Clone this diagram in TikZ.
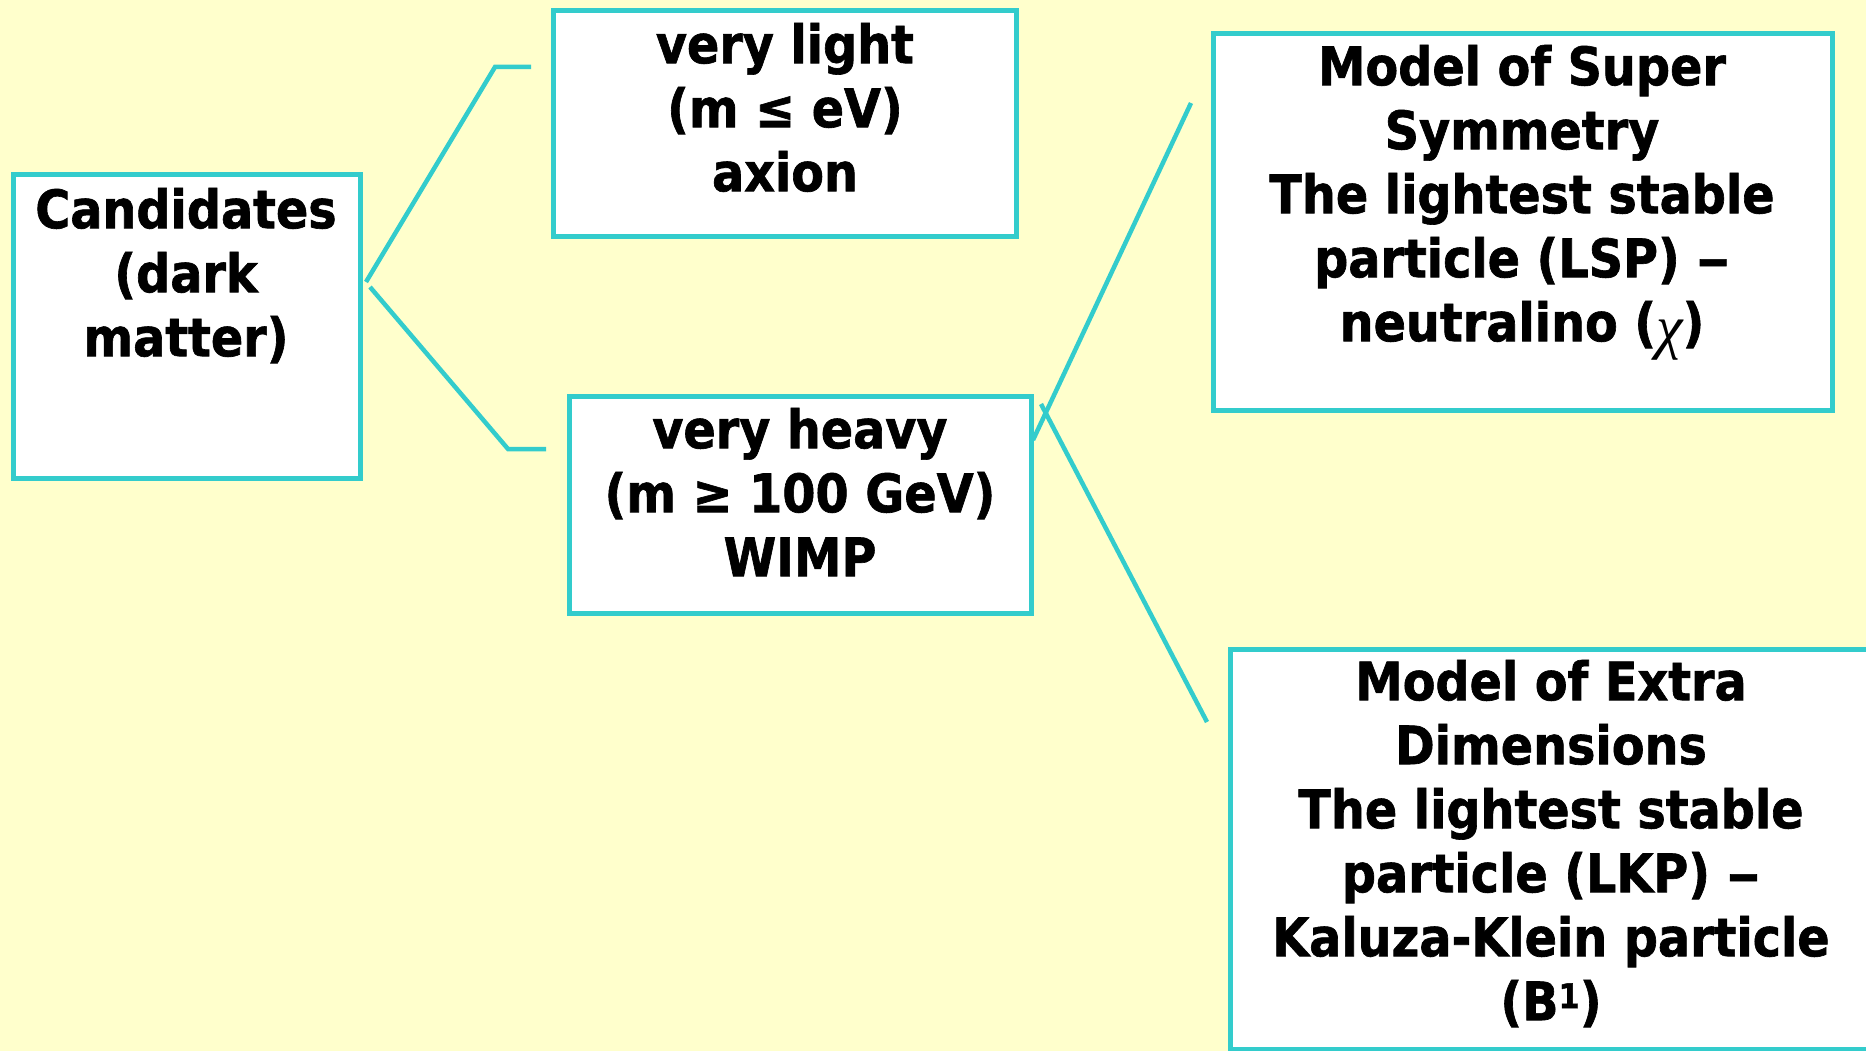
\documentclass[tikz,border=0pt]{standalone}
\usepackage{fontspec}
\usepackage{graphicx}
\setmainfont{DejaVu Sans Condensed}[BoldFont={DejaVu Sans Condensed Bold},BoldFeatures={FakeBold=1.2}]
\newfontfamily\greekfont{Liberation Serif}
\definecolor{paper}{HTML}{FFFFCC}
\definecolor{boxcyan}{HTML}{33CCCC}
\newcommand{\supone}{\raisebox{12pt}{\fontsize{34}{34}\selectfont 1}}
\newcommand{\longdash}{\scalebox{1.4}[1]{–}}
\begin{document}
\begin{tikzpicture}[x=1pt,y=-1pt,
  box/.style={draw=boxcyan, line width=5pt, fill=white, inner sep=0pt, anchor=center},
  txt/.style={font=\bfseries\fontsize{53}{64}\selectfont, align=center, inner sep=0pt, anchor=north},
  conn/.style={draw=boxcyan, line width=4.5pt}]
  % page and background
  \useasboundingbox (0,0) rectangle (1866,1051);
  \clip (0,0) rectangle (1866,1051);
  \fill[paper] (0,0) rectangle (1866,1051);

  % boxes
  \node[box, minimum width=347pt, minimum height=303pt] (cand)  at (186.5,326.5) {};
  \node[box, minimum width=463pt, minimum height=226pt] (light) at (784.5,124) {};
  \node[box, minimum width=462pt, minimum height=217pt] (heavy) at (800,504.5) {};
  \node[box, minimum width=619pt, minimum height=376pt] (susy)  at (1522.5,222) {};
  \node[box, minimum width=680pt, minimum height=400pt] (extra) at (1570,849) {};

  % texts (first baseline 45pt below the node top)
  \node[txt] (tcand)  at (186,183)  {\rule{0pt}{45pt}Candidates\\(dark\\matter)};
  \node[txt] (tlight) at (785,18)   {\rule{0pt}{45pt}very light\\(m ≤ eV)\\axion};
  \node[txt] (theavy) at (800,403)  {\rule{0pt}{45pt}very heavy\\(m ≥ 100 GeV)\\WIMP};
  \node[txt] (tsusy)  at (1522,40)  {\rule{0pt}{45pt}Model of Super\\Symmetry\\The lightest stable\\particle (LSP) \longdash\\neutralino ({\greekfont\mdseries\itshape\fontsize{60}{64}\selectfont\raisebox{-6pt}{χ}})};
  \node[txt] (textra) at (1551,655) {\rule{0pt}{45pt}Model of Extra\\Dimensions\\The lightest stable\\particle (LKP) \longdash\\Kaluza-Klein particle\\(B\supone)};

  % connector points
  \coordinate (aS) at (366,282);  \coordinate (aK) at (495,67);  \coordinate (aE) at (531,67);
  \coordinate (bS) at (370,287);  \coordinate (bK) at (508,449); \coordinate (bE) at (546,449);
  \coordinate (cS) at (1033,440); \coordinate (cE) at (1191,103);
  \coordinate (dS) at (1041,404); \coordinate (dE) at (1207,722);

  % connectors
  \draw[conn] (aS) -- (aK) -- (aE);
  \draw[conn] (bS) -- (bK) -- (bE);
  \draw[conn] (cS) -- (cE);
  \draw[conn] (dS) -- (dE);
\end{tikzpicture}
\end{document}
